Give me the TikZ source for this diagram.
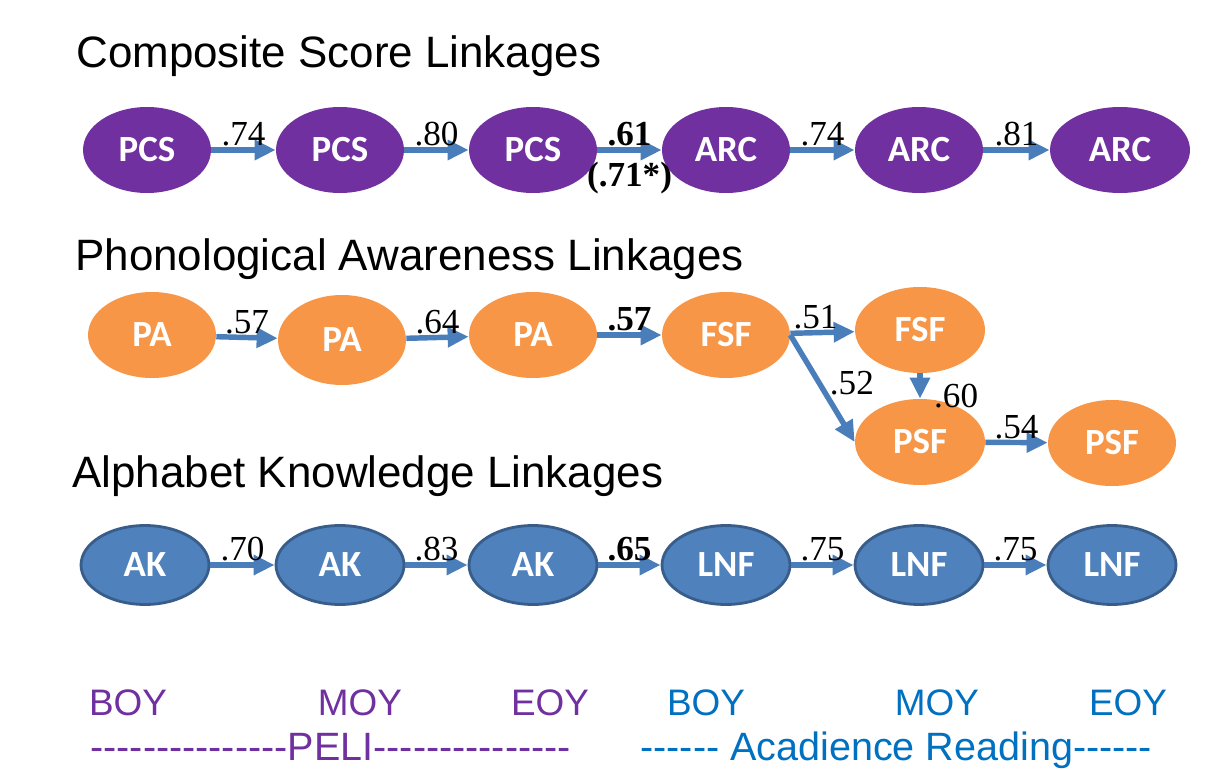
\documentclass[tikz,border=0pt]{standalone}
\usepackage{fontspec}
\setmainfont{Liberation Serif}
\newfontfamily\arialfont{Liberation Sans}
\newfontfamily\calibrifont{Carlito}
\usetikzlibrary{shapes.geometric,arrows.meta}
\definecolor{peliPurple}{HTML}{7030A0}
\definecolor{paOrange}{HTML}{F79646}
\definecolor{akBlue}{HTML}{4F81BD}
\definecolor{akEdge}{HTML}{385D8A}
\definecolor{linkBlue}{HTML}{4A7EBB}
\definecolor{acadBlue}{HTML}{0070C0}

\begin{document}
\begin{tikzpicture}[x=0.02cm,y=-0.02cm,>={Triangle[length=12pt,width=11pt]},
  oval/.style={ellipse,minimum width=2.56cm,minimum height=1.72cm,inner sep=0pt,
    text=white,font=\calibrifont\bfseries\fontsize{21}{21}\selectfont},
  link/.style={->,line width=3.1pt,draw=linkBlue},
  coef/.style={font=\fontsize{20}{20}\selectfont,inner sep=0.5pt},
  heading/.style={anchor=base west,inner sep=0pt,font=\arialfont\fontsize{25}{25}\selectfont},
  wave/.style={anchor=base,inner sep=0pt,font=\arialfont\fontsize{21}{21}\selectfont}]
  \useasboundingbox (0,0) rectangle (1213,770);

  % Composite score row (PELI -> Acadience).
  \node[heading] (headCS) at (76,68) {Composite Score Linkages};
  \foreach \n/\x/\t in {pcsA/147/PCS,pcsB/340/PCS,pcsC/533/PCS,
                        arcA/726/ARC,arcB/919/ARC} {
    \node[oval,fill=peliPurple] (\n) at (\x,150) {\t};
  }
  \node[oval,fill=peliPurple,minimum width=2.8cm] (arcC) at (1120,150) {ARC};
  \draw[link] (pcsA) -- node[coef,above] {.74} (pcsB);
  \draw[link] (pcsB) -- node[coef,above] {.80} (pcsC);
  \draw[link] (pcsC) -- node[coef,above] {\textbf{.61}}
    node[coef,below=5pt] {\textbf{(.71*)}} (arcA);
  \draw[link] (arcA) -- node[coef,above] {.74} (arcB);
  \draw[link] (arcB) -- node[coef,above] {.81} (arcC);

  % Phonological awareness row, with the split at FSF.
  \node[heading] (headPA) at (75,270) {Phonological Awareness Linkages};
  \node[oval,fill=paOrange] (paA) at (152,335) {PA};
  \node[oval,fill=paOrange,minimum height=1.8cm] (paB) at (342,340) {PA};
  \node[oval,fill=paOrange] (paC) at (533,335) {PA};
  \node[oval,fill=paOrange] (fsfA) at (726,335) {FSF};
  \node[oval,fill=paOrange,minimum width=2.6cm] (fsfB) at (920,330) {FSF};
  \node[oval,fill=paOrange,minimum width=2.6cm] (psfA) at (920,442) {PSF};
  \node[oval,fill=paOrange] (psfB) at (1112,443) {PSF};
  \draw[link] (paA) -- node[coef,above] {.57} (paB);
  \draw[link] (paB) -- node[coef,above] {.64} (paC);
  \draw[link] (paC) -- node[coef,above] {\textbf{.57}} (fsfA);
  \draw[link] (fsfA) -- node[coef,above,xshift=-4pt] {.51} (fsfB);
  \draw[link] (fsfA.east) -- node[coef,right,pos=.45,xshift=4pt] {.52} (psfA.west);
  \draw[link] (fsfB.south) -- node[coef,right,xshift=6pt,yshift=-6pt] {.60} (psfA.north);
  \draw[link] (psfA) -- node[coef,above] {.54} (psfB);

  % Alphabet knowledge row.
  \node[heading] (headAK) at (72,487) {Alphabet Knowledge Linkages};
  \foreach \n/\x/\t in {akA/145/AK,akB/340/AK,akC/533/AK,
                        lnfA/726/LNF,lnfB/919/LNF,lnfC/1112/LNF} {
    \node[oval,fill=akBlue,draw=akEdge,line width=1.6pt,minimum height=1.58cm]
      (\n) at (\x,565) {\t};
  }
  \draw[link] (akA) -- node[coef,above] {.70} (akB);
  \draw[link] (akB) -- node[coef,above] {.83} (akC);
  \draw[link] (akC) -- node[coef,above] {\textbf{.65}} (lnfA);
  \draw[link] (lnfA) -- node[coef,above] {.75} (lnfB);
  \draw[link] (lnfB) -- node[coef,above] {.75} (lnfC);

  % Testing waves along the bottom.
  \foreach \n/\x/\t in {wA/128/BOY,wB/360/MOY,wC/550/EOY} {
    \node[wave,text=peliPurple] (\n) at (\x,715) {\t};
  }
  \foreach \n/\x/\t in {wD/706/BOY,wE/937/MOY,wF/1128/EOY} {
    \node[wave,text=acadBlue] (\n) at (\x,715) {\t};
  }
  \node[wave,anchor=base west,text=peliPurple,font=\arialfont\fontsize{22.5}{22.5}\selectfont]
    (peli) at (90,760) {---------------PELI---------------};
  \node[wave,anchor=base west,text=acadBlue,font=\arialfont\fontsize{22.5}{22.5}\selectfont]
    (acad) at (640,760) {------ Acadience Reading------};
\end{tikzpicture}
\end{document}
